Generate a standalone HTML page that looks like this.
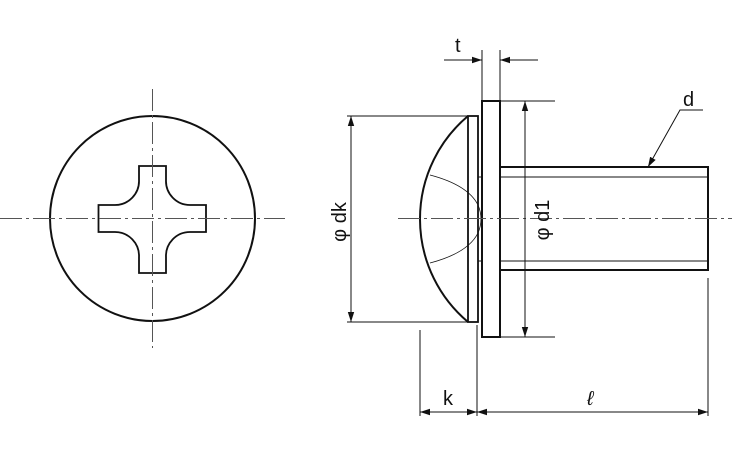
<!DOCTYPE html>
<html><head><meta charset="utf-8"><style>html,body{margin:0;padding:0;background:#fff}svg{display:block}text{font-family:"Liberation Sans",sans-serif;fill:#111}</style></head>
<body>
<svg width="750" height="450" viewBox="0 0 750 450" xmlns="http://www.w3.org/2000/svg">
<defs>
<marker id="a" viewBox="0 0 10 10" refX="10" refY="5" markerWidth="10" markerHeight="10" markerUnits="userSpaceOnUse" orient="auto-start-reverse"><path d="M0,1.8 L10,5 L0,8.2 z" fill="#111"/></marker>
</defs>
<g fill="none" stroke="#111">
<circle cx="152.5" cy="218.5" r="102.5" stroke-width="2"/>
<path stroke-width="1.8" d="M139,166 H166 V180 A24,24 0 0 0 190,205 H206 V232 H190 A24,24 0 0 0 166,257 V273 H139 V257 A24,24 0 0 0 115,232 H98.5 V205 H115 A24,24 0 0 0 139,180 Z"/>
<path stroke="#555" stroke-width="1" stroke-dasharray="22,4,3,4" d="M0,218.5 H285 M152.5,89 V348"/>
<path stroke-width="2" d="M468,116 A134.5,134.5 0 0 0 468,322"/>
<rect x="468" y="116" width="10" height="206" stroke-width="1.8"/>
<rect x="482" y="101" width="18" height="236" stroke-width="2"/>
<path stroke-width="2" d="M500,167 H708 V270 H500"/>
<path stroke-width="1" d="M500,177 H708 M500,261 H708 M478,177 H482 M478,261 H482"/>
<path stroke-width="0.8" d="M430,175 Q468,185 478,205 Q484,219 478,233 Q468,253 430,263"/>
<path stroke="#555" stroke-width="1" stroke-dasharray="22,4,3,4" d="M398,218.5 H732"/>
<g stroke-width="1">
<path d="M482,50 V101 M500,50 V101"/>
<path d="M444,60 H482" marker-end="url(#a)"/>
<path d="M538,60 H500" marker-end="url(#a)"/>
<path d="M500,101 H555 M500,337 H555"/>
<path d="M525,101 V337" marker-start="url(#a)" marker-end="url(#a)"/>
<path d="M347,116 H468 M347,322 H468"/>
<path d="M351,116 V322" marker-start="url(#a)" marker-end="url(#a)"/>
<path d="M703,110 H680 L648,167" marker-end="url(#a)"/>
<path d="M420,330 V416 M477,325 V416 M708,278 V416"/>
<path d="M420,412 H477" marker-start="url(#a)" marker-end="url(#a)"/>
<path d="M477,412 H708" marker-start="url(#a)" marker-end="url(#a)"/>
</g>
</g>
<text x="455" y="52" font-size="20">t</text>
<text x="683" y="106" font-size="20">d</text>
<text x="443" y="405" font-size="20">k</text>
<text x="587" y="405" font-size="20" font-style="italic">ℓ</text>
<text transform="translate(346,222) rotate(-90)" font-size="20" text-anchor="middle">φ dk</text>
<text transform="translate(549,220) rotate(-90)" font-size="20" text-anchor="middle">φ d1</text>
</svg>
</body></html>
